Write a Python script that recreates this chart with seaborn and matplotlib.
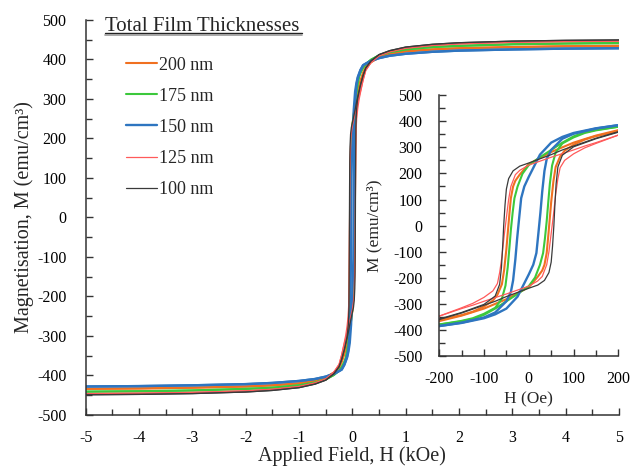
import numpy as np
import pandas as pd
import seaborn as sns
import matplotlib.pyplot as plt
from matplotlib.lines import Line2D
from matplotlib.ticker import MultipleLocator

# samples, drawn in this order
samples = ["200 nm", "175 nm", "150 nm", "125 nm", "100 nm"]
colors = {"200 nm": "#F07020", "175 nm": "#3CC83C", "150 nm": "#2E75C0",
          "125 nm": "#FF5A5A", "100 nm": "#3A3A3A"}
widths = {"200 nm": 1.5, "175 nm": 1.5, "150 nm": 1.7, "125 nm": 0.9, "100 nm": 0.9}

# high-field part of the descending branch (Oe), same for all samples
outer_H = [5000, 4000, 3000, 2000, 1500, 1000, 700, 500, 350, 250]
outer_M = {
    "150 nm": [428, 427, 425, 422, 419, 414, 409, 403, 396, 389],
    "175 nm": [441, 440, 438, 434, 431, 425, 418, 410, 399, 388],
    "200 nm": [434, 433, 431, 428, 425, 420, 413, 405, 393, 380],
    "125 nm": [446, 445, 443, 439, 435, 428, 419, 409, 392, 372],
    "100 nm": [449, 448, 446, 442, 438, 431, 422, 412, 396, 378],
}

# low-field part of the descending branch (Oe, emu/cm3)
low_H = {
    "150 nm": [200, 150, 100, 75, 50, 25, 0, -10, -17, -22, -26, -30, -35, -40, -50, -75, -100, -150, -200],
    "175 nm": [200, 150, 125, 100, 75, 50, 25, 0, -14, -25, -32, -36, -40, -43, -47, -52, -60, -75, -100, -125, -150, -200],
    "200 nm": [200, 150, 100, 50, 0, -20, -30, -35, -40, -44, -47, -50, -55, -60, -70, -80, -100, -125, -150, -200],
    "125 nm": [200, 150, 125, 100, 50, 0, -20, -30, -40, -45, -50, -55, -60, -65, -70, -80, -100, -125, -150, -200],
    "100 nm": [200, 150, 100, 75, 50, 0, -20, -35, -45, -50, -53, -56, -58, -61, -65, -75, -100, -150, -200],
}
low_M = {
    "150 nm": [385, 373, 355, 340, 318, 272, 187, 150, 105, 20, -50, -130, -210, -255, -290, -333, -352, -372, -385],
    "175 nm": [379, 367, 358, 342, 318, 290, 262, 232, 199, 150, 105, 50, -17, -80, -160, -230, -280, -315, -338, -355, -365, -379],
    "200 nm": [366, 345, 318, 282, 236, 196, 172, 150, 105, 30, -30, -90, -170, -225, -265, -287, -310, -330, -343, -362],
    "125 nm": [347, 318, 305, 290, 262, 232, 212, 195, 150, 100, 30, -40, -120, -180, -222, -250, -275, -298, -315, -347],
    "100 nm": [360, 335, 305, 290, 272, 240, 228, 210, 180, 140, 80, 0, -70, -160, -225, -270, -302, -333, -358],
}

rows = []
for s in samples:
    H_desc = outer_H + low_H[s] + [-h for h in outer_H[::-1]]
    M_desc = outer_M[s] + low_M[s] + [-m for m in outer_M[s][::-1]]
    for i, (h, m) in enumerate(zip(H_desc, M_desc)):
        rows.append({"sample": s, "branch": "desc", "order": i, "H": h, "M": m})
        # ascending branch is the point-mirror of the descending one
        rows.append({"sample": s, "branch": "asc", "order": i, "H": -h, "M": -m})
df = pd.DataFrame(rows)
df["H_kOe"] = df["H"] / 1000.0

sns.set_theme(style="ticks")
plt.rcParams['font.family'] = ['Liberation Serif', 'DejaVu Serif']
plt.rcParams['axes.unicode_minus'] = False
plt.rcParams['axes.edgecolor'] = '#333333'
plt.rcParams['xtick.color'] = '#333333'
plt.rcParams['ytick.color'] = '#333333'
plt.rcParams['xtick.labelcolor'] = 'black'
plt.rcParams['ytick.labelcolor'] = 'black'

fig = plt.figure(figsize=(6.31, 4.71), dpi=100)
ax = fig.add_axes([0.136, 0.119, 0.845, 0.839])
ins = fig.add_axes([0.696, 0.244, 0.284, 0.554])


def draw(axis, xcol):
    for s in samples:
        for b in ["desc", "asc"]:
            sub = df[(df["sample"] == s) & (df["branch"] == b)]
            sns.lineplot(data=sub, x=xcol, y="M", ax=axis, sort=False, estimator=None,
                         color=colors[s], linewidth=widths[s], legend=False)


def style(axis, fs, xpad, ypad):
    sns.despine(ax=axis)
    for sp in ["left", "bottom"]:
        axis.spines[sp].set_linewidth(1.1)
    axis.tick_params(which="major", direction="in", length=5, width=1, labelsize=fs)
    axis.tick_params(which="minor", direction="in", length=4, width=1)
    axis.tick_params(axis="x", which="major", pad=xpad)
    axis.tick_params(axis="y", which="major", pad=ypad)
    axis.set_facecolor("white")


draw(ax, "H_kOe")
ax.set_xlim(-5, 5)
ax.set_ylim(-500, 500)
ax.xaxis.set_major_locator(MultipleLocator(1))
ax.xaxis.set_minor_locator(MultipleLocator(0.5))
ax.yaxis.set_major_locator(MultipleLocator(100))
ax.yaxis.set_minor_locator(MultipleLocator(50))
style(ax, 11.5, 11, 14)
ax.set_xlabel("Applied Field, H (kOe)", fontsize=14.5, labelpad=0)
ax.set_ylabel("Magnetisation, M (emu/cm³)", fontsize=14.5, labelpad=2)

draw(ins, "H")
ins.set_xlim(-200, 200)
ins.set_ylim(-500, 500)
ins.xaxis.set_major_locator(MultipleLocator(100))
ins.xaxis.set_minor_locator(MultipleLocator(50))
ins.yaxis.set_major_locator(MultipleLocator(100))
ins.yaxis.set_minor_locator(MultipleLocator(50))
style(ins, 11.5, 11, 12)
ins.set_xlabel("H (Oe)", fontsize=12.5, labelpad=3)
ins.set_ylabel("M (emu/cm³)", fontsize=12.5, labelpad=8)

# legend with an underlined heading
ax.text(0.036, 0.972, "Total Film Thicknesses", transform=ax.transAxes,
        fontsize=15, va="baseline", ha="left")
ax.plot([0.036, 0.405], [0.967, 0.967], transform=ax.transAxes, color="#222222", lw=1.0, clip_on=False)
ax.plot([0.036, 0.405], [0.962, 0.962], transform=ax.transAxes, color="#999999", lw=1.2, clip_on=False)
handles = [Line2D([0], [0], color=colors[s], lw=widths[s]) for s in samples]
ax.legend(handles, samples, loc="upper left", bbox_to_anchor=(0.062, 0.925), frameon=False,
          fontsize=13, handlelength=1.7, handletextpad=0.15, labelspacing=0.78, borderaxespad=0)

fig.savefig("out.png", dpi=100)
